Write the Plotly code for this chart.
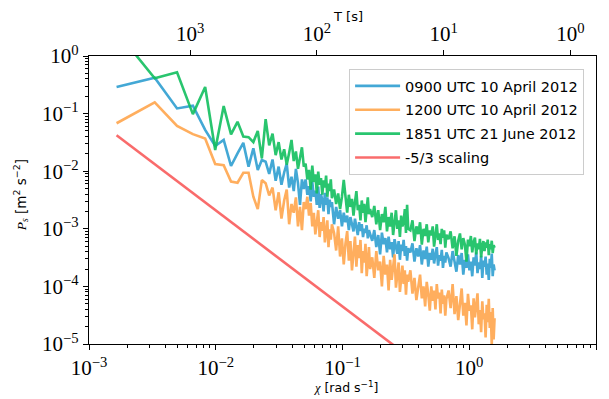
import numpy as np
import plotly.graph_objects as go

# frequency resolution of the spectra [rad s^-1] and harmonic numbers plotted
dchi = 0.00165
harm = (list(range(1, 51)) + list(range(52, 101, 2)) + list(range(104, 201, 4))
        + list(range(208, 401, 8)) + list(range(416, 961, 16)))
chi = [k * dchi for k in harm]

blue_s1 = [0.29, 0.42, 0.123, 0.137, 0.052, 0.0274, 0.035, 0.0123, 0.0204, 0.031,
           0.012, 0.025, 0.0105, 0.0156, 0.0146,
           0.009, 0.016, 0.0068, 0.012, 0.0058, 0.0095, 0.0135, 0.0052, 0.008, 0.0045,
           0.011, 0.0062, 0.0026, 0.0072, 0.0049,
           0.0072, 0.0039, 0.0055, 0.003, 0.0065, 0.0036, 0.0046, 0.0026, 0.0054, 0.0023,
           0.004, 0.0031, 0.002, 0.0042, 0.0026, 0.0035, 0.0018, 0.0032, 0.0024, 0.0029]
blue_s2 = [0.0012, 0.0024, 0.0015, 0.0021, 0.0011, 0.0019, 0.0013, 0.0017, 0.00095, 0.0016,
           0.0012, 0.0009, 0.0015, 0.0011, 0.00078, 0.0013, 0.00092, 0.0012, 0.00072, 0.001,
           0.00085, 0.00115, 0.00068, 0.00095, 0.0008]
blue_s3 = [6.2e-4, 9.5e-4, 4.8e-4, 7.8e-4, 3.6e-4, 8.6e-4, 5.4e-4, 6.9e-4, 3.9e-4, 7.3e-4,
           4.4e-4, 5.9e-4, 3.2e-4, 6.6e-4, 4.9e-4, 3.7e-4, 6.1e-4, 2.9e-4, 5.3e-4, 4.1e-4,
           6.4e-4, 3.4e-4, 5.0e-4, 2.8e-4, 4.6e-4]
blue_s4 = [3.9e-4, 5.6e-4, 2.7e-4, 4.6e-4, 3.3e-4, 5.2e-4, 2.4e-4, 4.2e-4, 3.0e-4, 4.9e-4,
           2.2e-4, 3.8e-4, 2.9e-4, 4.5e-4, 2.5e-4, 3.6e-4, 4.8e-4, 2.3e-4, 3.5e-4, 2.8e-4,
           4.3e-4, 2.1e-4, 3.4e-4, 2.6e-4, 3.9e-4]
blue_s5 = [3.1e-4, 2.2e-4, 4.1e-4, 2.6e-4, 1.8e-4, 3.5e-4, 2.4e-4, 3.8e-4, 1.6e-4, 2.9e-4,
           2.1e-4, 3.6e-4, 1.9e-4, 2.7e-4, 1.5e-4, 3.2e-4, 2.3e-4, 3.9e-4, 1.7e-4, 2.6e-4,
           2.0e-4, 3.4e-4, 1.4e-4, 2.8e-4, 2.2e-4, 3.3e-4, 1.6e-4, 2.5e-4, 1.3e-4, 3.0e-4,
           2.1e-4, 3.7e-4, 1.5e-4, 2.4e-4, 1.9e-4]

orange_s1 = [0.068, 0.157, 0.061, 0.044, 0.037, 0.0133, 0.0127, 0.0066, 0.0063, 0.0094,
             0.0094, 0.0036, 0.0022, 0.007, 0.0062,
             0.0038, 0.0052, 0.0021, 0.0043, 0.0015, 0.0031, 0.0048, 0.0012, 0.0027, 0.0019,
             0.0035, 0.0011, 0.0024, 0.00095, 0.0029,
             0.0022, 0.0036, 0.0017, 0.0028, 0.0011, 0.0019, 0.0008, 0.0015, 0.0021, 0.00072,
             0.0013, 0.00092, 0.0016, 0.00058, 0.0011, 0.0014, 0.00048, 0.00098, 0.00065, 0.0012]
orange_s2 = [0.00085, 0.00042, 0.0011, 0.00033, 0.00068, 0.00024, 0.00056, 0.00091, 0.00028, 0.00061,
             0.00019, 0.00047, 0.00073, 0.00022, 0.00052, 0.00031, 0.00064, 0.00017, 0.00041, 0.00026,
             0.00055, 0.00015, 0.00036, 0.00048, 0.0002]
orange_s3 = [0.00032, 0.00014, 0.00041, 0.00019, 0.00027, 0.0001, 0.00034, 0.00016, 0.00024, 0.000085,
             0.00029, 0.00013, 0.00021, 0.00036, 0.000095, 0.00018, 0.00026, 0.00008, 0.00015, 0.00023,
             0.00011, 0.00019, 0.000072, 0.00016, 0.00012]
orange_s4 = [0.00019, 0.000075, 0.00014, 0.000058, 0.00011, 0.00016, 0.000062, 0.0001, 0.000045, 0.00012,
             0.000072, 0.000038, 0.0001, 0.000056, 0.000085, 0.00004, 0.00011, 0.000062, 0.000078, 0.000034,
             0.000088, 0.00005, 0.00007, 0.000031, 0.00006]
orange_s5 = [0.000085, 0.000042, 0.00011, 0.000033, 0.000068, 0.000026, 0.000058, 0.000092, 0.000031, 0.000052,
             0.000021, 0.000074, 0.000038, 0.000047, 0.000018, 0.000062, 0.000029, 0.000043, 0.000076, 0.000022,
             0.000039, 0.000016, 0.000055, 0.000027, 0.000034, 0.000013, 0.000048, 0.000024, 0.000061, 0.000019,
             0.000036, 0.0000095, 0.000042, 0.000012, 0.000028]

green_s1 = [2.7, 0.41, 0.52, 0.098, 0.29, 0.0233, 0.135, 0.0437, 0.072, 0.04,
            0.039, 0.032, 0.05, 0.0167, 0.08,
            0.028, 0.045, 0.019, 0.032, 0.016, 0.024, 0.013, 0.021, 0.035, 0.015,
            0.022, 0.011, 0.018, 0.026, 0.012,
            0.0135, 0.0072, 0.0105, 0.0048, 0.0125, 0.0065, 0.0088, 0.0041, 0.0098, 0.0058,
            0.0076, 0.0039, 0.0069, 0.0052, 0.0084, 0.0036, 0.0061, 0.0045, 0.0072, 0.0034]
green_s2 = [0.0048, 0.0027, 0.0041, 0.0022, 0.0036, 0.0071, 0.0031, 0.0019, 0.0039, 0.0024,
            0.0033, 0.0017, 0.0029, 0.0045, 0.0021, 0.0026, 0.0014, 0.0031, 0.0019, 0.0027,
            0.0013, 0.0024, 0.0035, 0.0018, 0.0022]
green_s3 = [0.0016, 0.0025, 0.0012, 0.0021, 0.00095, 0.0018, 0.0013, 0.0024, 0.0009, 0.0016,
            0.0011, 0.0019, 0.00078, 0.0015, 0.0021, 0.001, 0.0014, 0.00072, 0.0017, 0.0011,
            0.0013, 0.0022, 0.00085, 0.0026, 0.001]
green_s4 = [0.00094, 0.0014, 0.00061, 0.0011, 0.00081, 0.0013, 0.00053, 0.001, 0.00075, 0.0012,
            0.00058, 0.00094, 0.00077, 0.0011, 0.00049, 0.00085, 0.0012, 0.00064, 0.00083, 0.00054,
            0.001, 0.0007, 0.00094, 0.00047, 0.00079]
green_s5 = [0.00066, 0.0009, 0.00046, 0.00074, 0.00034, 0.00062, 0.00083, 0.00044, 0.00069, 0.00053,
            0.00027, 0.00065, 0.0005, 0.00075, 0.00039, 0.00059, 0.0007, 0.00036, 0.00056, 0.00044,
            0.00067, 0.00032, 0.00051, 0.00061, 0.00041, 0.00058, 0.00047, 0.00065, 0.00035, 0.00054,
            0.00044, 0.00062, 0.00038, 0.00052, 0.00047]

scaling_chi = [0.00165, 1.6]
scaling_p = [0.042, 4.4e-7]

names = ["0900 UTC 10 April 2012", "1200 UTC 10 April 2012",
         "1851 UTC 21 June 2012", "-5/3 scaling"]
colors = ["#2f9fd1", "#ffa64d", "#12bf5f", "#f96464"]

blue = blue_s1 + blue_s2 + blue_s3 + blue_s4 + blue_s5
orange = orange_s1 + orange_s2 + orange_s3 + orange_s4 + orange_s5
green = green_s1 + green_s2 + green_s3 + green_s4 + green_s5

period_ticks = [1000, 100, 10, 1]
period_labels = ["10<sup>3</sup>", "10<sup>2</sup>", "10<sup>1</sup>", "10<sup>0</sup>"]
x_ticks = [1e-3, 1e-2, 1e-1, 1e0, 1e1]
x_labels = ["10<sup>−3</sup>", "10<sup>−2</sup>", "10<sup>−1</sup>", "10<sup>0</sup>", "10<sup>1</sup>"]
y_ticks = [1e-5, 1e-4, 1e-3, 1e-2, 1e-1, 1e0]
y_labels = ["10<sup>−5</sup>", "10<sup>−4</sup>", "10<sup>−3</sup>", "10<sup>−2</sup>",
            "10<sup>−1</sup>", "10<sup>0</sup>"]

fig = go.Figure()
for i, (yv, nm, c) in enumerate(zip([blue, orange, green], names[:3], colors[:3])):
    fig.add_trace(go.Scatter(x=chi, y=yv, mode="lines", name=nm, legendgroup=f"g{i}",
                             line=dict(color=c, width=2.6), opacity=0.9))
fig.add_trace(go.Scatter(x=scaling_chi, y=scaling_p, mode="lines", name=names[3], legendgroup="g3",
                         line=dict(color=colors[3], width=2.6), opacity=0.95))
# invisible trace carrying the top (period) axis
fig.add_trace(go.Scatter(x=[1e-3, 1e1], y=[1e-5, 1e-5], xaxis="x2", mode="markers",
                         marker=dict(opacity=0), showlegend=False, hoverinfo="skip"))

minor_x = [m * 10.0 ** e for e in range(-3, 1) for m in range(2, 10)]
minor_y = [m * 10.0 ** e for e in range(-5, 0) for m in range(2, 10)]

serif = "Liberation Serif"
sans = "DejaVu Sans"
tickfont = dict(family=serif, size=21, color="black")
axis_common = dict(ticks="outside", ticklen=5, tickwidth=1, tickcolor="black",
                   showline=True, linecolor="black", linewidth=1.3, showgrid=False,
                   zeroline=False, automargin=False, tickfont=tickfont, tickmode="array")

fig.update_layout(
    # the page body has an 8 px margin, so the figure is sized/placed to compensate
    width=601, height=391,
    margin=dict(l=81, r=13, t=48, b=55),
    paper_bgcolor="white", plot_bgcolor="white",
    font=dict(family=sans, color="black"),
    xaxis=dict(type="log", range=[-3, 1], tickvals=x_ticks, ticktext=x_labels,
               minor=dict(tickvals=minor_x, ticks="outside", ticklen=3, tickcolor="black", showgrid=False),
               **axis_common),
    xaxis2=dict(type="log", range=[-3, 1], overlaying="x", side="top", anchor="y",
                tickvals=[2 * np.pi / t for t in period_ticks], ticktext=period_labels,
                **axis_common),
    yaxis=dict(type="log", range=[-5, 0], tickvals=y_ticks, ticktext=y_labels, mirror=True,
               minor=dict(tickvals=minor_y, ticks="outside", ticklen=3, tickcolor="black", showgrid=False),
               **axis_common),
    legend=dict(x=0.513, y=0.955, xanchor="left", yanchor="top",
                bgcolor="rgba(255,255,255,0.85)", bordercolor="#cccccc", borderwidth=1,
                traceorder="grouped", tracegroupgap=2, itemwidth=45,
                font=dict(family=sans, size=14.5, color="black")),
    showlegend=True,
    annotations=[
        dict(text='<span style="font-family:Liberation Serif"><i>χ</i></span> [rad s<sup>−1</sup>]',
             xref="paper", yref="paper", x=0.507, y=-0.15, xanchor="center", yanchor="middle",
             showarrow=False, font=dict(size=12.5, family=sans)),
        dict(text='<span style="font-family:Liberation Serif"><i>P<sub>s</sub></i></span> [m<sup>2</sup> s<sup>−2</sup>]',
             xref="paper", yref="paper", x=-0.134, y=0.517, xanchor="center", yanchor="middle",
             textangle=-90, showarrow=False, font=dict(size=13.5, family=sans)),
        dict(text="T [s]", xref="paper", yref="paper", x=0.51, y=1.138,
             xanchor="center", yanchor="middle", showarrow=False, font=dict(size=13, family=sans)),
    ],
)

fig.write_html("out.html")
